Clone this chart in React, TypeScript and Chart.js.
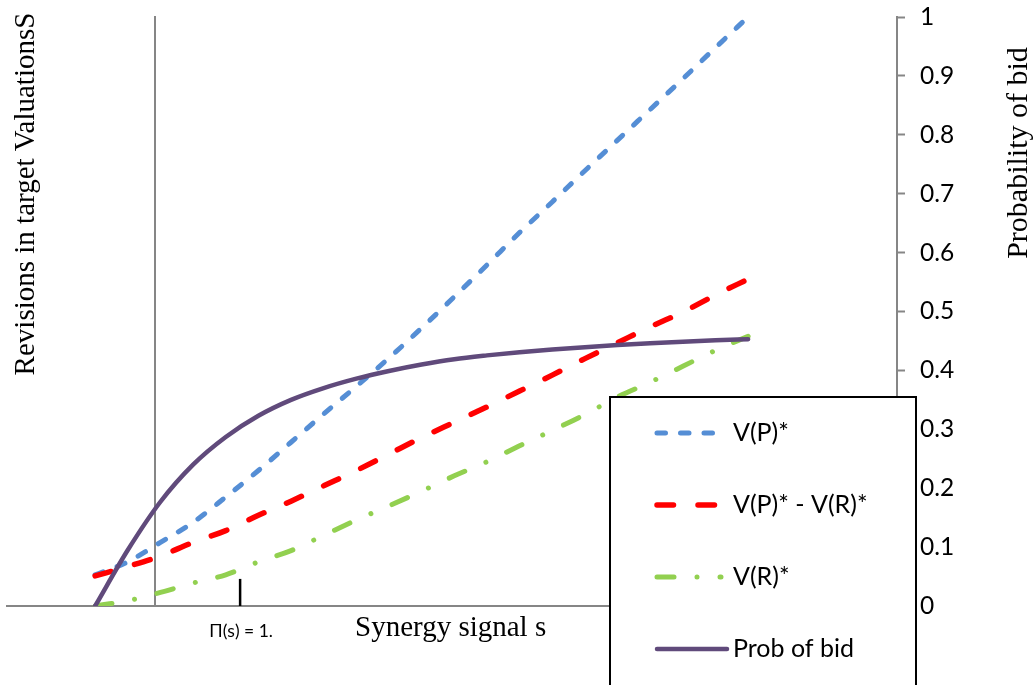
import React, { useEffect, useRef } from "react";
import { Chart, registerables } from "chart.js";

Chart.register(...registerables);

// ---------- data ----------
const signal = [0, 0.05, 0.1, 0.15, 0.2, 0.25, 0.3, 0.35, 0.4, 0.45, 0.5, 0.55, 0.6, 0.65, 0.7, 0.75, 0.8, 0.85, 0.9, 0.95, 1.0];
const vP = [0.053, 0.075, 0.108, 0.142, 0.185, 0.23, 0.278, 0.326, 0.373, 0.421, 0.472, 0.525, 0.579, 0.634, 0.686, 0.739, 0.791, 0.843, 0.895, 0.948, 1.0];
const vPminusR = [0.051, 0.067, 0.085, 0.108, 0.128, 0.154, 0.178, 0.204, 0.23, 0.258, 0.286, 0.312, 0.338, 0.365, 0.392, 0.42, 0.447, 0.474, 0.499, 0.528, 0.555];
const vR = [0, 0.009, 0.023, 0.039, 0.053, 0.075, 0.094, 0.12, 0.146, 0.17, 0.195, 0.221, 0.245, 0.272, 0.298, 0.325, 0.355, 0.38, 0.407, 0.434, 0.458];
const probBid = [0, 0.095, 0.177, 0.24, 0.287, 0.323, 0.35, 0.37, 0.386, 0.399, 0.41, 0.419, 0.4255, 0.431, 0.4355, 0.4395, 0.443, 0.446, 0.4485, 0.451, 0.453];

const seriesLabels = ["V(P)*", "V(P)* - V(R)*", "V(R)*", "Prob of bid"];
const probTickMin = 0;
const probTickMax = 1;
const probTickStep = 0.1;

const signalMin = -0.135;
const signalMax = 1.228;
const axisCrossSignal = 0.092; // where the (unlabelled) left vertical axis sits
const piSignal = 0.222; // position of the Π(s) = 1 marker
const piMarkHeight = 0.046;

const xTitle = "Synergy signal s";
const leftTitle = "Revisions in target ValuationsS";
const rightTitle = "Probability of bid";
const piLabel = "Π(s) = 1.";

// ---------- styling ----------
const SANS = "Lato";
const SERIF = "'Liberation Serif', 'Times New Roman', serif";
const AXIS_GRAY = "#868686";

const toPts = (ys: number[]) => signal.map((s, i) => ({ x: s, y: ys[i] }));

const overlayPlugin = {
  id: "overlay",
  afterDraw(chart: any) {
    const { ctx, scales } = chart;
    const xs = scales.x;
    const ys = scales.y;
    ctx.save();

    // Π(s) marker
    const px = xs.getPixelForValue(piSignal);
    ctx.strokeStyle = "#000";
    ctx.lineWidth = 2.5;
    ctx.beginPath();
    ctx.moveTo(px, ys.getPixelForValue(0));
    ctx.lineTo(px, ys.getPixelForValue(piMarkHeight));
    ctx.stroke();

    ctx.fillStyle = "#000";
    ctx.font = `17.5px ${SANS}`;
    ctx.textAlign = "center";
    ctx.textBaseline = "middle";
    ctx.fillText(piLabel, px + 1, 631);

    // axis titles
    ctx.font = `29px ${SERIF}`;
    ctx.textBaseline = "alphabetic";
    ctx.textAlign = "left";
    ctx.fillText(xTitle, 355, 636);

    ctx.save();
    ctx.translate(34, 194);
    ctx.rotate(-Math.PI / 2);
    ctx.textAlign = "center";
    ctx.fillText(leftTitle, 0, 0);
    ctx.restore();

    ctx.save();
    ctx.font = `30px ${SERIF}`;
    ctx.translate(1027, 153);
    ctx.rotate(-Math.PI / 2);
    ctx.textAlign = "center";
    ctx.fillText(rightTitle, 0, 0);
    ctx.restore();

    // legend box
    const bx = 610, by = 397, bw = 306, bh = 320;
    ctx.fillStyle = "#fff";
    ctx.fillRect(bx, by, bw, bh);
    ctx.strokeStyle = "#000";
    ctx.lineWidth = 2;
    ctx.strokeRect(bx, by, bw, bh);

    const rows = [433, 505, 577, 649];
    const sampleEnds = [718, 718, 721, 727];
    chart.data.datasets.forEach((ds: any, i: number) => {
      const y = rows[i];
      ctx.save();
      ctx.strokeStyle = ds.borderColor;
      ctx.lineWidth = ds.borderWidth;
      ctx.lineCap = ds.borderCapStyle || "butt";
      ctx.setLineDash(ds.borderDash || []);
      ctx.beginPath();
      ctx.moveTo(657, y);
      ctx.lineTo(sampleEnds[i], y);
      ctx.stroke();
      ctx.restore();
      ctx.fillStyle = "#000";
      ctx.font = `25px ${SANS}`;
      ctx.textAlign = "left";
      ctx.textBaseline = "middle";
      ctx.fillText(ds.label, 733, y);
    });

    ctx.restore();
  },
};

export default function App() {
  const ref = useRef<HTMLCanvasElement | null>(null);

  useEffect(() => {
    if (!ref.current) return;
    const chart = new Chart(ref.current, {
      type: "line",
      data: {
        datasets: [
          {
            label: seriesLabels[0],
            data: toPts(vP),
            borderColor: "#558ED5",
            borderWidth: 5,
            borderDash: [8.5, 15],
            borderCapStyle: "round",
            pointRadius: 0,
            cubicInterpolationMode: "monotone",
            order: 4,
          },
          {
            label: seriesLabels[1],
            data: toPts(vPminusR),
            borderColor: "#FF0000",
            borderWidth: 5.5,
            borderDash: [16.5, 24.5],
            borderCapStyle: "round",
            pointRadius: 0,
            cubicInterpolationMode: "monotone",
            order: 3,
          },
          {
            label: seriesLabels[2],
            data: toPts(vR),
            borderColor: "#92D050",
            borderWidth: 5,
            borderDash: [17, 23, 0.01, 23],
            borderCapStyle: "round",
            pointRadius: 0,
            cubicInterpolationMode: "monotone",
            order: 2,
          },
          {
            label: seriesLabels[3],
            data: toPts(probBid),
            borderColor: "#604A7B",
            borderWidth: 4.5,
            borderCapStyle: "round",
            pointRadius: 0,
            cubicInterpolationMode: "monotone",
            order: 1,
          },
        ] as any,
      },
      options: {
        responsive: false,
        animation: false,
        layout: { padding: { left: 7, top: 17, right: 0, bottom: 0 } },
        plugins: { legend: { display: false }, tooltip: { enabled: false } },
        scales: {
          x: {
            type: "linear",
            min: signalMin,
            max: signalMax,
            ticks: { display: false },
            grid: { display: false },
            border: { display: true, color: AXIS_GRAY, width: 2 },
            afterFit: (s: any) => {
              s.height = 79;
              s.paddingLeft = 0;
              s.paddingRight = 0;
            },
          },
          y: {
            type: "linear",
            position: "right",
            min: probTickMin,
            max: probTickMax,
            ticks: {
              stepSize: probTickStep,
              color: "#000",
              padding: 15,
              font: { family: SANS, size: 24.5 },
              callback: (v: any) => String(Number(Number(v).toFixed(1))),
            },
            grid: {
              display: true,
              drawOnChartArea: false,
              drawTicks: true,
              tickLength: 8,
              tickColor: AXIS_GRAY,
              tickWidth: 2,
            },
            border: { display: true, color: AXIS_GRAY, width: 2 },
            afterFit: (s: any) => {
              s.width = 139;
              s.paddingTop = 0;
              s.paddingBottom = 0;
            },
          },
          yLeft: {
            type: "linear",
            position: { x: axisCrossSignal } as any,
            min: probTickMin,
            max: probTickMax,
            ticks: { display: false },
            grid: { display: false },
            border: { display: true, color: AXIS_GRAY, width: 2 },
          },
        } as any,
      },
      plugins: [overlayPlugin],
    });
    return () => chart.destroy();
  }, []);

  return (
    <div style={{ position: "absolute", left: 0, top: 0, width: 1036, height: 685, background: "#fff" }}>
      <canvas ref={ref} width={1036} height={685} />
    </div>
  );
}
